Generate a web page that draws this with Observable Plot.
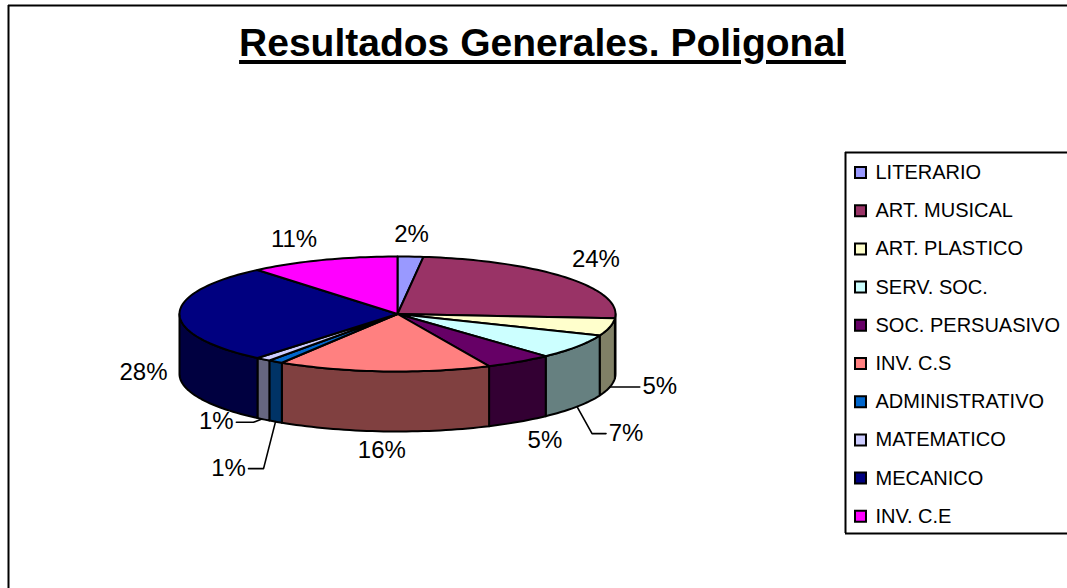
<!DOCTYPE html>
<html>
<head>
<meta charset="utf-8">
<script src="https://cdn.jsdelivr.net/npm/d3@7"></script>
<script src="https://cdn.jsdelivr.net/npm/@observablehq/plot@0.6"></script>
<style>
html,body{margin:0;padding:0;background:#fff;overflow:hidden}
#wrap{position:relative;width:1067px;height:588px;overflow:hidden}
#title{position:absolute;left:0;top:21px;width:1085px;text-align:center;font:bold 39px "Liberation Sans",Arial,sans-serif;color:#000;text-decoration:underline;text-decoration-thickness:4px;text-underline-offset:4px;white-space:nowrap}
svg{display:block;font-family:"Liberation Sans",Arial,sans-serif}
</style>
</head>
<body>
<div id="wrap"><div id="title">Resultados Generales. Poligonal</div></div>
<script>
const categories = ["LITERARIO","ART. MUSICAL","ART. PLASTICO","SERV. SOC.","SOC. PERSUASIVO","INV. C.S","ADMINISTRATIVO","MATEMATICO","MECANICO","INV. C.E"];
const shares = [1.9,24.3,4.9,7.0,5.0,15.8,1.1,1.1,27.8,11.1];
const topColors = ["#9999FF","#993366","#FFFFCC","#CCFFFF","#660066","#FF8080","#0066CC","#CCCCFF","#000080","#FF00FF"];
const sideColors = ["#4C4C80","#4C1933","#808066","#668080","#330033","#804040","#003366","#666680","#000040","#800080"];

// Layout (pixels) of the drawing, separate from the values
const pie = {cx:397, cy:313.5, rx:218, ry:57.5, depth:60, step:1.5};
const labelOffsets = [[1,-22],[30,-18],[50,-1],[49,27],[26,19],[-2,19],[-47,47],[-47,2],[-36,58],[-29,-21]];
const leaderOffsets = {2:[[0,0],[30,0]], 3:[[0,0],[15,27],[29,27]], 6:[[0,0],[-12,47],[-27,47]], 7:[[-2,0],[-10,3],[-27,3]]};
const legend = {left:845, top:152, bottom:533, swatchX:860, textX:875, firstY:172, gap:38.2};
const frame = {x:8, y:5};

const rad = d => d * Math.PI / 180;
const rim = (deg, drop = 0) => ({x: pie.cx + pie.rx * Math.sin(rad(deg)), y: pie.cy - pie.ry * Math.cos(rad(deg)) + drop});
const arcAngles = (a, b) => { const out = []; for (let t = a; t < b; t += pie.step) out.push(t); out.push(b); return out; };

let cum = 0;
const slices = shares.map((v, i) => {
  const a0 = cum / 100 * 360; cum += v; const a1 = cum / 100 * 360;
  return {i, name: categories[i], v, a0, a1, mid: (a0 + a1) / 2};
});

const sideRows = [], topRows = [];
for (const s of slices) {
  for (const p of [{x: pie.cx, y: pie.cy}, ...arcAngles(s.a0, s.a1).map(t => rim(t))])
    topRows.push({...p, id: s.name, color: topColors[s.i]});
  const lo = Math.max(s.a0, 90), hi = Math.min(s.a1, 270);
  if (hi > lo) {
    const arc = arcAngles(lo, hi);
    for (const p of [...arc.map(t => rim(t)), ...arc.slice().reverse().map(t => rim(t, pie.depth))])
      sideRows.push({...p, id: s.name, color: sideColors[s.i]});
  }
}

const anchor = s => {
  const c = Math.cos(rad(s.mid));
  return rim(s.mid, c < -0.01 ? pie.depth : 0);
};
const labelRows = slices.map(s => {
  const a = anchor(s), o = labelOffsets[s.i];
  return {x: a.x + o[0], y: a.y + o[1], text: Math.round(s.v) + "%"};
});
const leaderRows = Object.entries(leaderOffsets).flatMap(([k, pts]) => {
  const a = anchor(slices[+k]);
  return pts.map(o => ({x: a.x + o[0], y: a.y + o[1], id: k}));
});
const legendRows = categories.map((name, i) => ({name, color: topColors[i], y: legend.firstY + i * legend.gap}));

const chart = Plot.plot({
  width: 1067, height: 588, margin: 0,
  x: {domain: [0, 1067], range: [0, 1067], axis: null},
  y: {domain: [0, 588], range: [0, 588], axis: null},
  color: {type: "identity"},
  marks: [
    Plot.ruleX([frame.x], {y1: frame.y, y2: 588, stroke: "#000", strokeWidth: 2}),
    Plot.ruleY([frame.y], {x1: frame.x, x2: 1067, stroke: "#000", strokeWidth: 2}),
    Plot.line(sideRows, {x: "x", y: "y", z: "id", fill: "color", stroke: "#000", strokeWidth: 2, curve: "linear-closed"}),
    Plot.line(topRows, {x: "x", y: "y", z: "id", fill: "color", stroke: "#000", strokeWidth: 2, curve: "linear-closed"}),
    Plot.line(leaderRows, {x: "x", y: "y", z: "id", stroke: "#000", strokeWidth: 1.6}),
    Plot.text(labelRows, {x: "x", y: "y", text: "text", fontSize: 24, fill: "#000", textAnchor: "middle", lineAnchor: "middle"}),
    Plot.ruleX([legend.left], {y1: legend.top, y2: legend.bottom, stroke: "#000", strokeWidth: 2}),
    Plot.ruleY([legend.top, legend.bottom], {x1: legend.left, x2: 1067, stroke: "#000", strokeWidth: 2}),
    Plot.dot(legendRows, {x: () => legend.swatchX, y: "y", symbol: "square", r: 6.2, fill: "color", stroke: "#000", strokeWidth: 2}),
    Plot.text(legendRows, {x: () => legend.textX, y: "y", text: "name", fontSize: 20, fill: "#000", textAnchor: "start", lineAnchor: "middle"})
  ]
});
document.getElementById("wrap").appendChild(chart);
</script>
</body>
</html>
